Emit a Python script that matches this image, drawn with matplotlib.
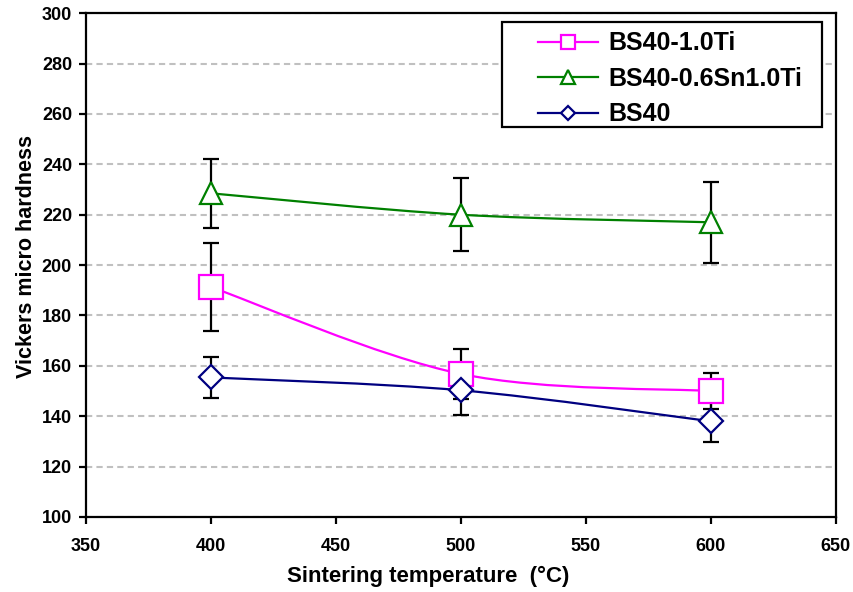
import matplotlib.pyplot as plt
import numpy as np
from matplotlib.path import Path
from matplotlib.patches import PathPatch, Rectangle
from matplotlib.lines import Line2D

# data
temps = [400, 500, 600]
ti_vals = [191.3, 156.8, 150.0]
ti_err = [17.5, 10.0, 7.0]
sn_vals = [228.5, 220.0, 217.0]
sn_err = [13.7, 14.6, 16.0]
bs_vals = [155.4, 150.3, 138.0]
bs_err = [8.0, 10.0, 8.3]

labels = ['BS40-1.0Ti', 'BS40-0.6Sn1.0Ti', 'BS40']
colors = ['#FF00FF', '#008000', '#000080']
markers = ['s', '^', 'D']
sizes = [17, 16.5, 12]


def smooth_path(xs, ys):
    # excel-like smoothed line: cubic bezier through the points
    p = np.column_stack([xs, ys]).astype(float)
    ext = np.vstack([p[0], p, p[-1]])
    verts = [p[0]]
    codes = [Path.MOVETO]
    for i in range(len(p) - 1):
        c1 = ext[i + 1] + (ext[i + 2] - ext[i]) / 6
        c2 = ext[i + 2] - (ext[i + 3] - ext[i + 1]) / 6
        verts += [c1, c2, p[i + 1]]
        codes += [Path.CURVE4] * 3
    return Path(verts, codes)


plt.rcParams['font.family'] = ['Liberation Sans', 'DejaVu Sans']
plt.rcParams['font.weight'] = 'bold'

fig = plt.figure(figsize=(8.54, 5.92), dpi=100)
ax = fig.add_axes([0.1007, 0.1267, 0.878, 0.851])

handles = []
series = [(ti_vals, ti_err), (sn_vals, sn_err), (bs_vals, bs_err)]
for (vals, err), lab, c, m, ms in zip(series, labels, colors, markers, sizes):
    ax.errorbar(temps, vals, yerr=err, fmt='none', ecolor='black',
                elinewidth=1.6, capsize=5.5, capthick=1.6, zorder=2)
    ax.add_patch(PathPatch(smooth_path(temps, vals), fill=False, edgecolor=c,
                           lw=1.6, zorder=3))
    ax.plot(temps, vals, ls='none', marker=m, ms=ms, mfc='white',
            mec=c, mew=1.6, zorder=4)
    handles.append(Line2D([], [], color=c, lw=1.6, marker=m, ms=ms * 0.6,
                          mfc='white', mec=c, mew=1.6, label=lab))

ax.set_xlim(350, 650)
ax.set_ylim(100, 300)
ax.set_xticks(np.arange(350, 651, 50))
ax.set_yticks(np.arange(100, 301, 20))
ax.yaxis.grid(True, color='#C0C0C0', linestyle=(0, (3, 2)), linewidth=1.5)
ax.set_axisbelow(True)
for s in ax.spines.values():
    s.set_linewidth(1.6)
ax.tick_params(direction='out', length=5, width=1.6, labelsize=13)
ax.tick_params(axis='y', pad=5)
ax.tick_params(axis='x', pad=10)

ax.set_xlabel('Sintering temperature  (\u00b0C)', fontsize=16, fontweight='bold')
ax.xaxis.set_label_coords(0.456, -0.097)
ax.set_ylabel('Vickers micro hardness', fontsize=15.5, fontweight='bold')
ax.yaxis.set_label_coords(-0.066, 0.518)

# legend box like the excel one
ax.add_patch(Rectangle((0.5547, 0.7738), 0.4266, 0.2083, transform=ax.transAxes,
                       facecolor='white', edgecolor='black', lw=1.6, zorder=5))
leg = ax.legend(handles=handles, loc='upper left', bbox_to_anchor=(0.6027, 0.964),
                fontsize=18, frameon=False, handlelength=2.4, handletextpad=0.4,
                borderpad=0, labelspacing=0.46, borderaxespad=0)
leg.set_zorder(6)

fig.savefig('out.png', dpi=100)
